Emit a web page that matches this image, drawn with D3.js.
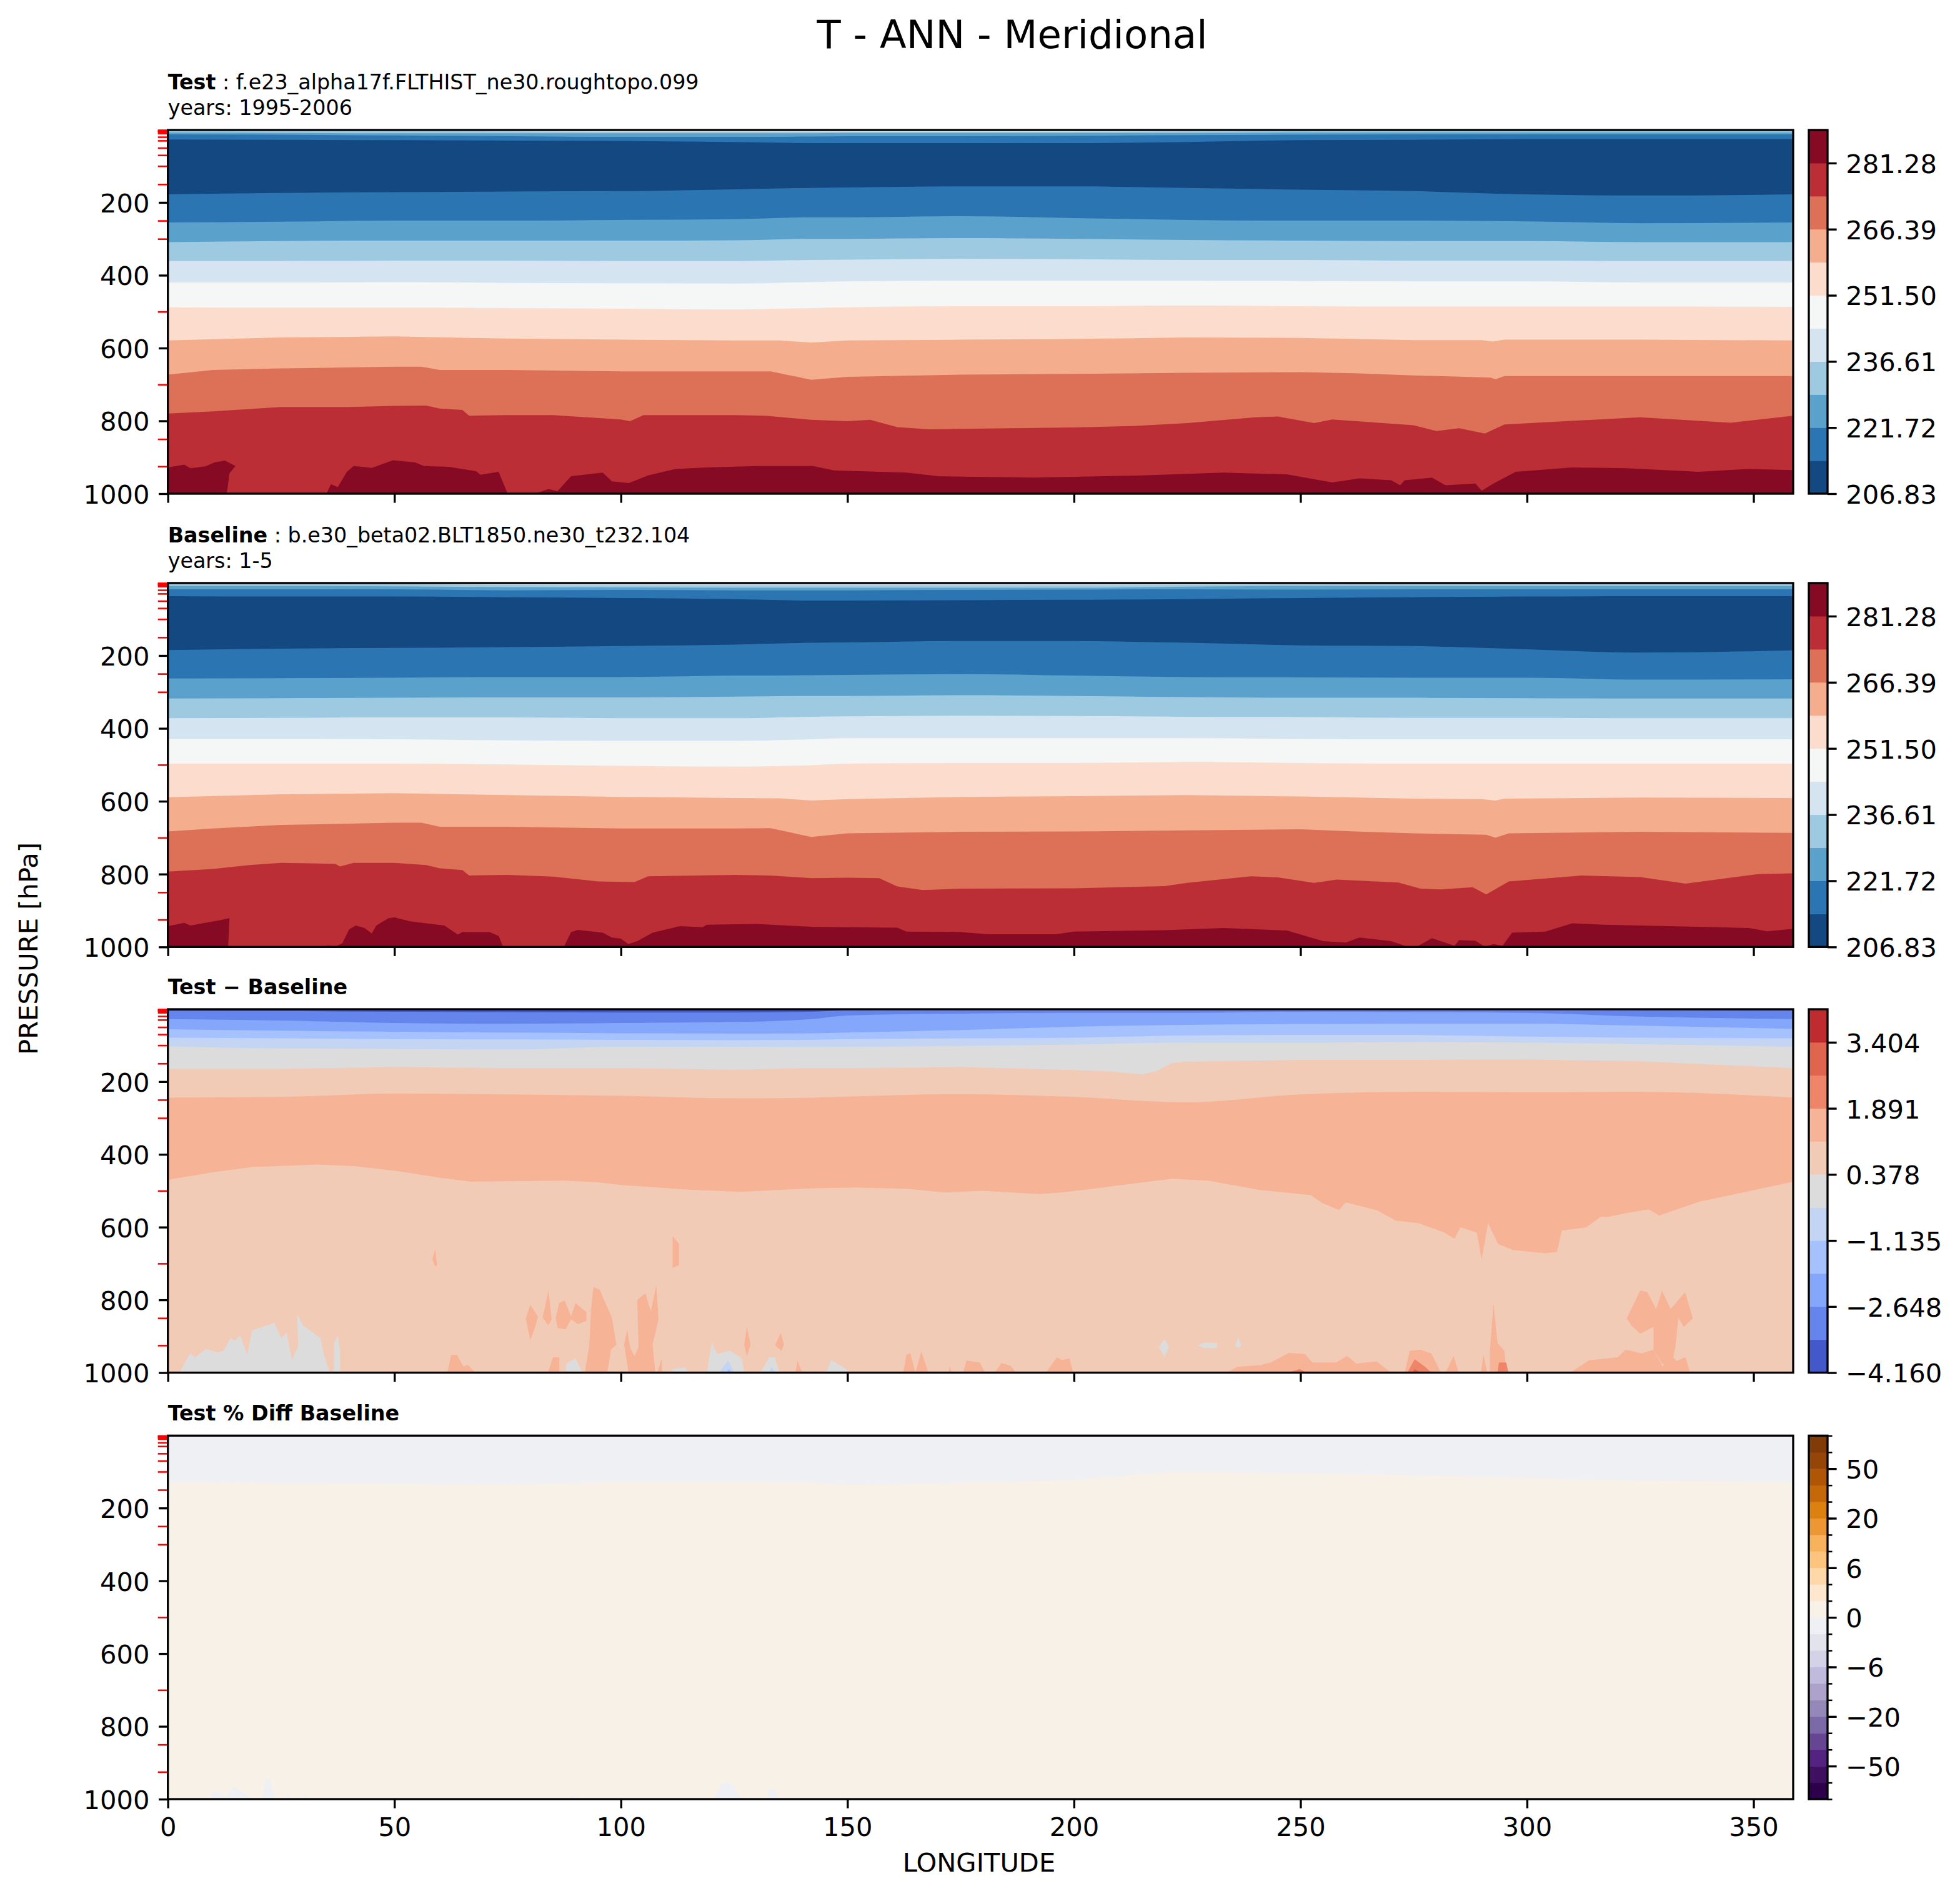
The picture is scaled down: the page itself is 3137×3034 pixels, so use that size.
<!DOCTYPE html>
<html>
<head>
<meta charset="utf-8">
<script src="https://cdn.jsdelivr.net/npm/d3@7"></script>
<style>
  html, body { margin: 0; padding: 0; background: #fff; }
  text { font-family: "DejaVu Sans", sans-serif; fill: #000; }
</style>
</head>
<body>
<svg id="chart" width="3137" height="3034"></svg>
<script>
// longitudes shared by the smooth contours
const lonGrid = [0, 25, 50, 75, 100, 125, 142, 150, 175, 200, 225, 250, 275, 300, 325, 358.75];

const xTicks = [0, 50, 100, 150, 200, 250, 300, 350];
const yTicks = [200, 400, 600, 800, 1000];
const levelTicks = [1, 2, 3, 5, 7, 10, 20, 30, 50, 70, 100, 150, 250, 300, 500, 700, 850, 925];

// colour bands
const tempLevels = [206.83, 214.275, 221.72, 229.165, 236.61, 244.055, 251.5, 258.945, 266.39, 273.835, 281.28, 288.725];
const tempTicks = [206.83, 221.72, 236.61, 251.5, 266.39, 281.28];
const tempColors = ["#134880", "#2c75b3", "#5aa2cb", "#9dcae1", "#d4e5f1", "#f5f7f6", "#fcdccd", "#f5ae8d", "#dd7158", "#bc2e35", "#870a24"];

const diffLevels = [-4.16, -3.404, -2.648, -1.891, -1.135, -0.378, 0.378, 1.135, 1.891, 2.648, 3.404, 4.16];
const diffTicks = [-4.16, -2.648, -1.135, 0.378, 1.891, 3.404];
const diffColors = ["#4358cb", "#6485ec", "#84a7fc", "#a5c1fe", "#c4d5f3", "#dddcdc", "#f2cbb7", "#f6b396", "#ee8468", "#e0654f", "#bf2c2f"];

const pctLevels = [-100, -75, -50, -40, -30, -20, -15, -10, -6, -4, -2, 0, 2, 4, 6, 10, 15, 20, 30, 40, 50, 75, 100];
const pctTicks = [-50, -20, -6, 0, 6, 20, 50];
const pctColors = ["#2d004b", "#3f0f60", "#542381", "#664593", "#7c69a8", "#9488b9", "#aca2ca", "#c0badc", "#d3d2e7", "#e3e3ee", "#eff0f4",
  "#f8f1e8", "#fee7cf", "#fed8a8", "#fdc47e", "#f9b25c", "#ed9634", "#dc800f", "#c4680a", "#ae5506", "#964508", "#7f3b08"];

// Test panel contours, pressure in hPa on lonGrid
const testPaleLight = [2, 2, 3, 5, 6, 6, 6, 6, 6, 6, 5, 4, 3, 3, 2, 2];
const testLightMed = [8, 9, 10, 10, 10, 10, 10, 9, 9, 9, 9, 8, 8, 8, 8, 8];
const testMedBlue = [13, 14, 16, 18, 20, 20, 19, 18, 18, 17, 15, 14, 13, 13, 13, 13];
const testBlueNavy = [27, 28, 29, 30, 31, 34, 37, 37, 37, 37, 34, 29, 28, 26, 26, 26];
const testNavyBlue = [178, 174, 172, 170, 169, 164, 160, 159, 156, 156, 160, 165, 169, 178, 181, 178];
const testBlueMed = [255, 253, 250, 250, 248, 246, 241, 241, 238, 243, 248, 250, 250, 252, 257, 255];
const testMedLight = [309, 306, 305, 305, 305, 304, 300, 300, 298, 300, 303, 305, 306, 306, 309, 309];
const testLightPale = [361, 361, 360, 360, 361, 361, 358, 357, 355, 356, 358, 358, 360, 360, 361, 361];
const testPaleWhite = [420, 420, 419, 421, 422, 423, 419, 417, 415, 415, 415, 416, 417, 417, 420, 420];
const testWhitePeach = [488, 489, 489, 490, 492, 494, 490, 488, 485, 485, 483, 485, 486, 486, 486, 487];
// rougher contours carry their own longitudes
const testPeachSalmon = [[0,579],[25,571],[50,568],[75,574],[100,577],[125,579],[135,579],[142,585],[150,579],[175,577],[200,575],[225,571],[250,572],[275,578],[290,578],[292.5,582],[295,577],[325,577],[358.75,579]];
const testSalmonDark = [[0,673],[10,660],[25,656],[50,651],[56,651],[60,660],[75,660],[100,664],[125,664],[133,664],[142,687],[150,679],[175,673],[200,671],[225,668],[250,666],[262,669],[275,675],[292,681],[293,686],[295,677],[300,677],[325,677],[358.75,677]];
const testDarkRed = [[0,780],[10,774],[25,762],[40,762],[50,759],[57,758],[60,766],[65,770],[66.5,786],[75,784],[85,784],[100,796],[102,801],[105,784],[125,784],[132,786],[142,797],[150,801],[155,797],[161,817],[168,823],[175,822],[200,818],[213,814],[225,806],[240,790],[245,788],[253,806],[257,796],[275,812],[280,828],[285,820],[290.7,835],[295,810],[325,790],[345,805],[358.75,786]];
const testRedDeep = [[0,928],[3.6,920],[5,930],[8.3,925],[10.3,914],[12.6,909],[14.9,924],[13.6,944],[13,1000],[35,1000],[36,974],[37.5,982],[39.5,940],[41,924],[45,929],[49.7,908],[54.6,914],[56.5,924],[62,926],[68,938],[69,948],[73,940],[75,1000],[81,1000],[84,987],[86,993],[89,952],[96,942],[98,966],[101.7,971],[106,950],[112,932],[119,928],[130,924],[142.4,924],[147,936],[163,942],[170,952],[191,956],[215,950],[233,942],[247,947],[257,969],[263,958],[270,963],[272,977],[273,963],[279,956],[282,977],[288.6,972],[290,992],[292.6,972],[297.5,940],[310,928],[322,930],[338,940],[349,932],[358.75,935]];

// Baseline panel contours
const basePaleLight = [2, 2, 4, 6, 7, 7, 7, 7, 7, 7, 6, 5, 4, 4, 3, 3];
const baseLightMed = [9, 9, 10, 12, 13, 14, 14, 14, 14, 14, 11, 9, 9, 9, 9, 9];
const baseMedBlue = [18, 18, 18, 21, 20, 21, 21, 21, 20, 19, 18, 19, 18, 18, 18, 18];
const baseBlueNavy = [37, 38, 38, 40, 42, 45, 49, 49, 48, 47, 45, 42, 40, 38, 37, 37];
const baseNavyBlue = [185, 181, 179, 177, 174, 170, 165, 164, 160, 160, 165, 172, 174, 183, 192, 186];
const baseBlueMed = [263, 262, 261, 259, 259, 255, 254, 253, 251, 255, 259, 260, 261, 261, 266, 265];
const baseMedLight = [318, 317, 316, 315, 315, 313, 311, 311, 309, 311, 314, 316, 316, 317, 318, 318];
const baseLightPale = [372, 371, 370, 370, 372, 372, 368, 367, 365, 366, 368, 369, 371, 371, 372, 372];
const basePaleWhite = [429, 429, 430, 433, 434, 434, 430, 427, 427, 427, 427, 429, 430, 430, 430, 430];
const baseWhitePeach = [497, 497, 497, 499, 503, 505, 501, 497, 495, 495, 492, 495, 497, 497, 497, 497];
const basePeachSalmon = [[0,589],[25,581],[50,578],[75,583],[100,588],[125,591],[135,592],[142,598],[150,594],[175,588],[200,586],[225,583],[250,587],[275,593],[290,594],[293,598],[295,593],[325,590],[358.75,591]];
const baseSalmonDark = [[0,683],[10,675],[25,665],[50,659],[56,659],[60,670],[75,670],[100,675],[125,675],[133,674],[142,698],[150,688],[175,684],[200,683],[225,680],[250,677],[262,683],[275,688],[291,692],[293,700],[296,688],[325,684],[358.75,687]];
const baseDarkRed = [[0,793],[10,786],[18,775],[25,769],[37,772],[38,779],[41,769],[50,769],[57,775],[60,784],[65,789],[66.5,804],[75,802],[85,807],[95,820],[103,822],[106,806],[125,802],[133,804],[142,811],[150,810],[157,811],[161,834],[166.6,844],[175,840],[200,839],[220,833],[225,824],[239,806],[245,809],[253,824],[258,815],[271.6,823],[276.5,840],[281,842],[288,836],[291,856],[296,820],[312,804],[325,808],[335,826],[351,800],[358.75,798]];
const baseRedDeep = [[0,943],[3.6,934],[5,941],[11.3,927],[13.6,921],[13.3,1000],[35,1000],[35.2,995],[36.8,1000],[38.5,990],[40,952],[41.5,941],[43.4,948],[45,963],[46,941],[48.7,921],[50,919],[53.6,930],[61,941],[64,966],[65,959],[71,959],[73,970],[74,1000],[87.4,1000],[89,959],[90.5,953],[96,961],[98,974],[100,977],[101.6,992],[103.6,984],[107,961],[113,943],[118,946],[119,939],[130,937],[142.5,945],[161,947],[163,958],[175,959],[181,965],[196,965],[200,958],[220,954],[233,948],[247,955],[255,984],[260,988],[263,974],[270,984],[273.6,999],[275.7,999],[279,976],[284,997],[285,981],[288.6,983],[290.7,999],[292.6,992],[294.6,997],[296.7,961],[304,958],[310,935],[317,939],[339,945],[349,948],[353,957],[358.75,950]];

// Test - Baseline contours
const diffTop1 = [6, 6, 8, 9, 10, 10, 8, 4, 2, 2, 2, 2, 2, 2, 4, 5];
const diffTop2 = [28, 32, 39, 41, 39, 36, 28, 18, 13, 11, 11, 8, 9, 11, 21, 28];
const diffTop3 = [56, 60, 63, 65, 67, 68, 67, 65, 58, 49, 44, 42, 41, 41, 46, 55];
const diffTop4 = [79, 81, 83, 84, 85, 86, 85, 83, 81, 79, 73, 72, 72, 76, 79, 81];
const diffTop5 = [103, 109, 110, 112, 104, 104, 105, 104, 102, 98, 93, 93, 91, 93, 97, 104];
const diffGreyPeach = [[0,165],[25,165],[50,160],[75,163],[100,163],[125,167],[142,163],[150,163],[175,160],[200,168],[208,172],[215,180],[218,172],[221.6,149],[225,145],[250,140],[275,140],[300,139],[325,144],[358.75,163]];
const diffPeachSalmon = [244, 242, 233, 235, 239, 246, 244, 241, 234, 242, 257, 235, 228, 229, 228, 244];
const diffSalmonPeach = [[0,470],[10,449],[18.6,435],[33,428],[41,432],[50.7,446],[60.4,465],[67,475],[87.4,472],[95,477],[100,484],[115,497],[126.4,503],[142.4,493],[152,491],[163.4,495],[171.5,505],[179.5,500],[192.5,509],[197.3,505],[207,490],[221.6,467],[229.6,472],[241,498],[252.3,512],[254.7,533],[258.5,553],[260,532],[267,554],[271,582],[276,589],[281.6,614],[284,632],[285.3,600],[288.9,615],[290,688],[291.4,589],[293.6,646],[296.9,663],[304,672],[306.6,668],[307.7,609],[313,601],[316.3,572],[318,572],[322,561],[326.8,551],[329.2,568],[338,530],[347.6,505],[358.75,475]];

// closed patches near the surface, [lon, hPa]
const diffGreyPatches = [
  [[2.6,1000],[4.9,947],[6,958],[8.4,935],[10.9,944],[12.3,940],[13.8,905],[14.8,912],[16,898],[17.5,951],[18.6,884],[23.5,863],[25,905],[26.2,890],[27.4,965],[28.8,926],[28.5,839],[29.8,870],[33.7,905],[34.2,940],[35.7,1000]],
  [[36.6,1000],[36.7,919],[37.5,898],[38,940],[38,1000]],
  [[87.8,1000],[88,975],[90,961],[91.5,1000]],
  [[111.4,1000],[111.4,990],[114.2,986],[114.8,1000]],
  [[119,1000],[120,919],[121.3,949],[124,940],[126.7,961],[127.2,1000]],
  [[130.8,1000],[132.7,958],[134,958],[135,1000]],
  [[145.3,1000],[146.4,965],[149.7,990],[150.5,1000]],
  [[218.7,930],[220,907],[221,930],[220,956]],
  [[227.2,925],[228.8,917],[231.6,919],[231.6,932],[228.8,932]],
  [[235.6,926],[236.3,902],[236.9,926],[236.3,932]]
];
const diffPaleBluePatches = [
  [[121.6,1000],[123.7,966],[125,1000]],
  [[132.7,1000],[133.2,984],[134.2,1000]]
];
const diffBluePatches = [
  [[123.3,1000],[123.8,990],[124.4,1000]]
];
const diffSalmonPatches = [
  [[58.4,688],[59,660],[59.4,705],[59,709]],
  [[111.4,712],[111.4,625],[112.8,646],[112.8,705]],
  [[79,851],[80,813],[81.7,846],[81,877],[80,911]],
  [[82.7,849],[84,775],[84.7,853],[84,870]],
  [[85.6,849],[86.4,808],[87.6,802],[89,845],[90,809],[92.4,834],[92.4,858],[90.5,867],[89,853],[87.8,881],[86,877]],
  [[92,1000],[93,926],[93.4,828],[93.9,765],[95.3,772],[98,849],[99,923],[97.8,937],[97,1000]],
  [[100.7,923],[101.4,881],[102,930],[103,955],[103.9,930],[103.6,800],[105.4,782],[106.6,832],[107.8,760],[108.3,853],[107,923],[107.6,1000],[101.7,1000]],
  [[108,1000],[109,961],[109.1,1000]],
  [[127.2,923],[127.8,874],[128.6,923],[127.8,954]],
  [[134,925],[135.3,891],[136,923],[135.4,940]],
  [[61.7,1000],[62.5,951],[63.8,951],[65.2,983],[66.2,979],[67.9,1000]],
  [[83.9,1000],[85,958],[86.4,958],[86.4,1000]],
  [[138.5,1000],[139,967],[140,1000]],
  [[162.3,1000],[163,951],[163.9,947],[165,1000],[166.3,942],[167.9,1000]],
  [[172.3,1000],[172.6,983],[173,1000]],
  [[175.5,1000],[176.3,967],[179.2,972],[180.4,1000]],
  [[182.5,1000],[184,974],[186,981],[187.2,1000]],
  [[193.8,1000],[196.2,958],[197.3,965],[199,961],[199.8,1000]],
  [[233.7,1000],[236,984],[241.3,979],[243.4,972],[247.4,946],[251,949],[252.6,972],[257.9,972],[260.3,954],[262.3,975],[266.8,969],[270,1000]],
  [[273,1000],[274.1,940],[276.5,937],[278.9,947],[281,1000]],
  [[282,1000],[283.8,954],[284.9,1000]],
  [[289.8,1000],[290.4,950],[291.2,1000]],
  [[291.8,1000],[291.8,940],[292.6,811],[293.5,919],[295,940],[295.5,1000]],
  [[309.6,1000],[313.7,966],[320,958],[321.8,937],[325.3,947],[327.9,937],[330,984],[331,940],[333,968],[335,958],[336,1000]],
  [[322,851],[325,774],[326.6,779],[328.5,825],[329.8,775],[331.7,825],[334.9,779],[336.6,851],[334.6,874],[333.4,849],[332.8,926],[332,975],[329.8,975],[327.9,937],[327.9,874],[325,893],[323,870]]
];
const diffOrangePatches = [
  [[247.4,1000],[249.8,990],[251.5,1000]],
  [[273.6,1000],[275.2,963],[277.3,982],[278.9,1000]],
  [[293.5,1000],[293.8,972],[295.4,972],[295.9,1000]]
];
const diffRedPatches = [
  [[274.6,1000],[275.2,990],[276.5,1000]]
];

// percent difference panel
const pctEdge = [130, 131, 133, 135, 129, 129, 130, 136, 130, 122, 101, 105, 110, 118, 124, 128];
const pctPatches = [
  [[9.4,1000],[9.9,978],[11.3,982],[12.8,994],[14.7,965],[17.7,991],[18.2,1000]],
  [[20.8,1000],[21.5,947],[22.5,943],[23.5,1000]],
  [[26.2,1000],[26.6,982],[26.9,1000]],
  [[29.9,1000],[30.1,982],[30.4,1000]],
  [[88.5,1000],[89.5,987],[90.5,1000]],
  [[120.6,1000],[122,960],[123.5,953],[125,964],[126.4,1000]],
  [[132.2,1000],[132.7,974],[134,971],[134.7,1000]]
];

// edges on lonGrid are smooth, the rest keep their corners
const smoothEdges = new Set();
const pts = arr => {
    const e = d3.zip(lonGrid, arr);
    smoothEdges.add(e);
    return e;
};
const tempFills = ["#d4e5f1", "#9dcae1", "#5aa2cb", "#2c75b3", "#134880", "#2c75b3", "#5aa2cb", "#9dcae1", "#d4e5f1", "#f5f7f6", "#fcdccd", "#f5ae8d", "#dd7158", "#bc2e35", "#870a24"];
const fmt2 = d3.format(".2f");
const fmt3 = d => d3.format(".3f")(d).replace("-", "\u2212");
const fmtPct = d => String(d).replace("-", "\u2212");

// layout, in px of the 300 dpi figure
const svg = d3.select("#chart");
const left = 268.7, right = 2870;
const cbLeft = 2895, cbRight = 2925;
const tickLen = 14.6, tickPad = 14.6, tickFont = 41.67;
const spineW = 3.33;

const xScale = d3.scaleLinear().domain([0, 358.75]).range([left, right]);

svg.append("text")
    .attr("x", 1620).attr("y", 77)
    .attr("text-anchor", "middle")
    .attr("font-size", 62.5)
    .text("T - ANN - Meridional");

svg.append("text")
    .attr("transform", "translate(60,1518) rotate(-90)")
    .attr("text-anchor", "middle")
    .attr("font-size", tickFont)
    .text("PRESSURE [hPa]");

svg.append("text")
    .attr("x", 1567).attr("y", 2995)
    .attr("text-anchor", "middle")
    .attr("font-size", tickFont)
    .text("LONGITUDE");

function drawPanel(cfg, idx) {
    const yScale = d3.scaleLinear().domain([1, 1000]).range([cfg.top, cfg.bottom]);
    const g = svg.append("g");

    const clipId = `clip${idx}`;
    g.append("clipPath").attr("id", clipId)
        .append("rect")
        .attr("x", left).attr("y", cfg.top)
        .attr("width", right - left).attr("height", cfg.bottom - cfg.top);

    const plot = g.append("g").attr("clip-path", `url(#${clipId})`);

    plot.append("rect")
        .attr("x", left).attr("y", cfg.top)
        .attr("width", right - left).attr("height", cfg.bottom - cfg.top)
        .attr("fill", cfg.base);

    // each contour fills everything below it, top to bottom
    const area = d3.area()
        .x(d => xScale(d[0]))
        .y0(yScale(1000))
        .y1(d => yScale(d[1]));

    cfg.bands.forEach(b => {
        area.curve(smoothEdges.has(b.edge) ? d3.curveMonotoneX : d3.curveLinear);
        plot.append("path")
            .attr("d", area(b.edge))
            .attr("fill", b.fill);
    });

    const patch = d3.line().x(d => xScale(d[0])).y(d => yScale(d[1]));
    (cfg.patches || []).forEach(p => {
        plot.selectAll(null)
            .data(p.shapes)
            .enter()
            .append("path")
            .attr("d", d => patch(d) + "Z")
            .attr("fill", p.fill);
    });

    // red ticks at the standard levels
    const redAxis = d3.axisLeft(yScale).tickValues(levelTicks).tickSize(16).tickFormat("");
    const redG = g.append("g").attr("transform", `translate(${left},0)`).call(redAxis);
    redG.select(".domain").remove();
    redG.selectAll("line").attr("stroke", "#ff0000").attr("stroke-width", 2.6);

    const yAxis = d3.axisLeft(yScale).tickValues(yTicks).tickSize(tickLen).tickPadding(tickPad).tickFormat(d3.format("d"));
    const yG = g.append("g").attr("transform", `translate(${left},0)`).call(yAxis);
    yG.select(".domain").remove();
    yG.selectAll("line").attr("stroke-width", spineW);
    yG.selectAll("text").attr("font-size", tickFont).attr("font-family", "DejaVu Sans").attr("dy", ".37em");

    const xAxis = d3.axisBottom(xScale).tickValues(xTicks).tickSize(tickLen).tickPadding(tickPad);
    if (!cfg.xLabels) xAxis.tickFormat("");
    const xG = g.append("g").attr("transform", `translate(0,${cfg.bottom})`).call(xAxis);
    xG.select(".domain").remove();
    xG.selectAll("line").attr("stroke-width", spineW);
    xG.selectAll("text").attr("font-size", tickFont).attr("font-family", "DejaVu Sans");

    g.append("rect")
        .attr("x", left).attr("y", cfg.top)
        .attr("width", right - left).attr("height", cfg.bottom - cfg.top)
        .attr("fill", "none")
        .attr("stroke", "#000").attr("stroke-width", spineW);

    // colour bar, bands are equally tall whatever the level values are
    const cbScale = d3.scalePoint().domain(cfg.levels).range([cfg.bottom, cfg.top]);
    g.append("g").selectAll("rect")
        .data(cfg.colors)
        .enter()
        .append("rect")
        .attr("x", cbLeft)
        .attr("width", cbRight - cbLeft)
        .attr("y", (d, i) => cbScale(cfg.levels[i + 1]))
        .attr("height", (d, i) => cbScale(cfg.levels[i]) - cbScale(cfg.levels[i + 1]) + 0.5)
        .attr("fill", d => d);

    if (cfg.minorTicks) {
        const minor = g.append("g")
            .attr("transform", `translate(${cbRight},0)`)
            .call(d3.axisRight(cbScale).tickSize(7.5).tickFormat(""));
        minor.select(".domain").remove();
        minor.selectAll("line").attr("stroke-width", 2.5);
    }

    const cbAxis = d3.axisRight(cbScale)
        .tickValues(cfg.ticks)
        .tickSize(tickLen).tickPadding(tickPad)
        .tickFormat(cfg.format);
    const cbG = g.append("g").attr("transform", `translate(${cbRight},0)`).call(cbAxis);
    cbG.select(".domain").remove();
    cbG.selectAll("line").attr("stroke-width", spineW);
    cbG.selectAll("text").attr("font-size", tickFont).attr("font-family", "DejaVu Sans").attr("dy", ".37em");

    g.append("rect")
        .attr("x", cbLeft).attr("y", cfg.top)
        .attr("width", cbRight - cbLeft).attr("height", cfg.bottom - cfg.top)
        .attr("fill", "none")
        .attr("stroke", "#000").attr("stroke-width", spineW);

    // panel headers
    const lines = cfg.header;
    lines.forEach((line, i) => {
        const t = g.append("text")
            .attr("x", left)
            .attr("y", cfg.top - 24.5 - (lines.length - 1 - i) * 41)
            .attr("font-size", 33.33);
        if (line.bold) t.append("tspan").attr("font-weight", "bold").text(line.bold);
        if (line.text) t.append("tspan").text(line.text);
    });
}

const bandsFrom = (edges, fills) => edges.map((e, i) => ({ edge: e, fill: fills[i + 1] }));

const panels = [
    {
        top: 208, bottom: 790, base: tempFills[0],
        bands: bandsFrom([pts(testPaleLight), pts(testLightMed), pts(testMedBlue), pts(testBlueNavy), pts(testNavyBlue), pts(testBlueMed), pts(testMedLight), pts(testLightPale), pts(testPaleWhite), pts(testWhitePeach), testPeachSalmon, testSalmonDark, testDarkRed, testRedDeep], tempFills),
        levels: tempLevels, colors: tempColors, ticks: tempTicks, format: fmt2,
        header: [{ bold: "Test", text: " : f.e23_alpha17f.FLTHIST_ne30.roughtopo.099" }, { text: "years: 1995-2006" }]
    },
    {
        top: 933, bottom: 1515.3, base: tempFills[0],
        bands: bandsFrom([pts(basePaleLight), pts(baseLightMed), pts(baseMedBlue), pts(baseBlueNavy), pts(baseNavyBlue), pts(baseBlueMed), pts(baseMedLight), pts(baseLightPale), pts(basePaleWhite), pts(baseWhitePeach), basePeachSalmon, baseSalmonDark, baseDarkRed, baseRedDeep], tempFills),
        levels: tempLevels, colors: tempColors, ticks: tempTicks, format: fmt2,
        header: [{ bold: "Baseline", text: " : b.e30_beta02.BLT1850.ne30_t232.104" }, { text: "years: 1-5" }]
    },
    {
        top: 1615, bottom: 2196.5, base: "#4358cb",
        bands: [
            { edge: pts(diffTop1), fill: "#6485ec" },
            { edge: pts(diffTop2), fill: "#84a7fc" },
            { edge: pts(diffTop3), fill: "#a5c1fe" },
            { edge: pts(diffTop4), fill: "#c4d5f3" },
            { edge: pts(diffTop5), fill: "#dddcdc" },
            { edge: diffGreyPeach, fill: "#f2cbb7" },
            { edge: pts(diffPeachSalmon), fill: "#f6b396" },
            { edge: diffSalmonPeach, fill: "#f2cbb7" }
        ],
        patches: [
            { shapes: diffGreyPatches, fill: "#dddcdc" },
            { shapes: diffPaleBluePatches, fill: "#c4d5f3" },
            { shapes: diffBluePatches, fill: "#a5c1fe" },
            { shapes: diffSalmonPatches, fill: "#f6b396" },
            { shapes: diffOrangePatches, fill: "#ee8468" },
            { shapes: diffRedPatches, fill: "#e0654f" }
        ],
        levels: diffLevels, colors: diffColors, ticks: diffTicks, format: fmt3,
        header: [{ bold: "Test \u2212 Baseline" }]
    },
    {
        top: 2297.3, bottom: 2879, base: "#eff0f4",
        bands: [{ edge: pts(pctEdge), fill: "#f8f1e8" }],
        patches: [{ shapes: pctPatches, fill: "#eff0f4" }],
        levels: pctLevels, colors: pctColors, ticks: pctTicks, format: fmtPct, minorTicks: true, xLabels: true,
        header: [{ bold: "Test % Diff Baseline" }]
    }
];

panels.forEach(drawPanel);
</script>
</body>
</html>
